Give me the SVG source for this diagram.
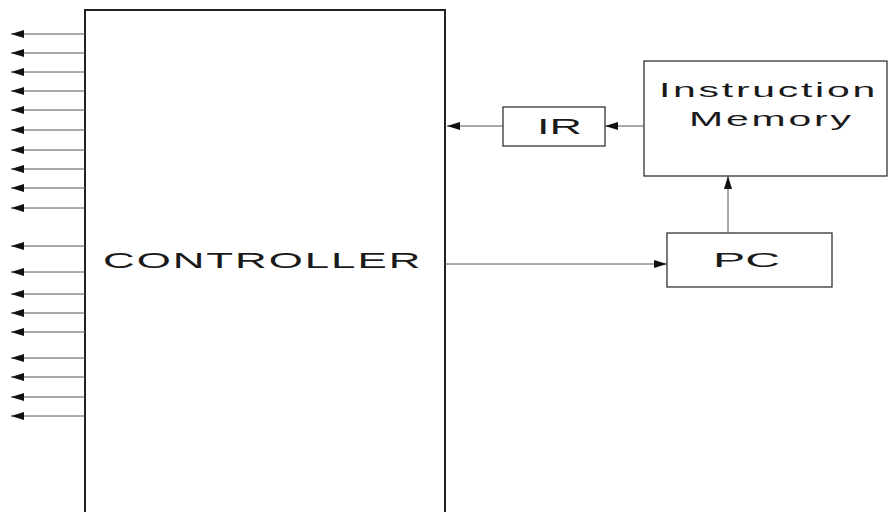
<svg xmlns="http://www.w3.org/2000/svg" width="888" height="512" viewBox="0 0 888 512">
<style>
.box{fill:none;stroke:#333;stroke-width:1.3}
.ctrl{fill:none;stroke:#222;stroke-width:2}
.wire{fill:none;stroke:#555;stroke-width:1}
.lbl{font-family:"Liberation Sans",Arial,sans-serif;fill:#1a1a1a}
</style>
<defs>
<marker id="ah" markerUnits="userSpaceOnUse" markerWidth="14" markerHeight="9" refX="13" refY="4" orient="auto">
<path d="M0,0 L13,4 L0,8 Z" fill="#111"/>
</marker>
</defs>
<rect width="888" height="512" fill="#fff"/>
<g id="controller">
<path class="ctrl" d="M85,520 L85,10 L445,10 L445,520"/>
<text class="lbl" font-size="22.5" letter-spacing="1" transform="translate(103,268) scale(1.95,1)">CONTROLLER</text>
</g>
<g id="ir">
<rect class="box" x="503" y="107" width="102" height="39"/>
<text class="lbl" font-size="22" x="537" y="134" textLength="45" lengthAdjust="spacingAndGlyphs">IR</text>
</g>
<g id="instruction-memory">
<rect class="box" x="644" y="61" width="243" height="115"/>
<text class="lbl" font-size="21" letter-spacing="1.4" transform="translate(659,97) scale(1.95,1)">Instruction</text>
<text class="lbl" font-size="21" letter-spacing="1.45" transform="translate(689,126) scale(1.95,1)">Memory</text>
</g>
<g id="pc">
<rect class="box" x="667" y="233" width="165" height="54"/>
<text class="lbl" font-size="21" x="713" y="267" textLength="67" lengthAdjust="spacingAndGlyphs">PC</text>
</g>
<g id="connectors">
<line class="wire" x1="445" y1="264" x2="667" y2="264" marker-end="url(#ah)"/>
<line class="wire" x1="728" y1="233" x2="728" y2="176" stroke-width="1.5" marker-end="url(#ah)"/>
<line class="wire" x1="644" y1="126" x2="605" y2="126" marker-end="url(#ah)"/>
<line class="wire" x1="503" y1="126" x2="447" y2="126" marker-end="url(#ah)"/>
<line class="wire" x1="85" y1="34" x2="11" y2="34" marker-end="url(#ah)"/>
<line class="wire" x1="85" y1="53" x2="11" y2="53" marker-end="url(#ah)"/>
<line class="wire" x1="85" y1="72" x2="11" y2="72" marker-end="url(#ah)"/>
<line class="wire" x1="85" y1="91" x2="11" y2="91" marker-end="url(#ah)"/>
<line class="wire" x1="85" y1="110" x2="11" y2="110" marker-end="url(#ah)"/>
<line class="wire" x1="85" y1="130" x2="11" y2="130" marker-end="url(#ah)"/>
<line class="wire" x1="85" y1="150" x2="11" y2="150" marker-end="url(#ah)"/>
<line class="wire" x1="85" y1="169" x2="11" y2="169" marker-end="url(#ah)"/>
<line class="wire" x1="85" y1="188" x2="11" y2="188" marker-end="url(#ah)"/>
<line class="wire" x1="85" y1="208" x2="11" y2="208" marker-end="url(#ah)"/>
<line class="wire" x1="85" y1="246" x2="11" y2="246" marker-end="url(#ah)"/>
<line class="wire" x1="85" y1="272" x2="11" y2="272" marker-end="url(#ah)"/>
<line class="wire" x1="85" y1="294" x2="11" y2="294" marker-end="url(#ah)"/>
<line class="wire" x1="85" y1="313" x2="11" y2="313" marker-end="url(#ah)"/>
<line class="wire" x1="85" y1="332" x2="11" y2="332" marker-end="url(#ah)"/>
<line class="wire" x1="85" y1="358" x2="11" y2="358" marker-end="url(#ah)"/>
<line class="wire" x1="85" y1="377" x2="11" y2="377" marker-end="url(#ah)"/>
<line class="wire" x1="85" y1="397" x2="11" y2="397" marker-end="url(#ah)"/>
<line class="wire" x1="85" y1="416" x2="11" y2="416" marker-end="url(#ah)"/>
</g>
</svg>
